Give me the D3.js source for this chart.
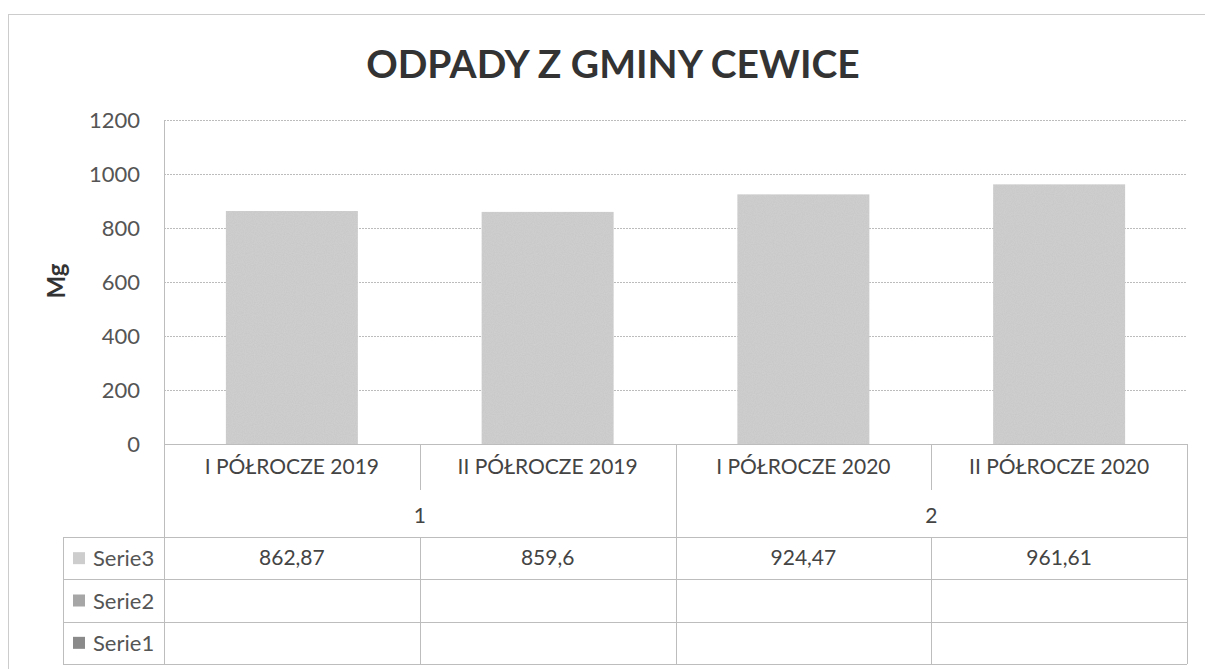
<!DOCTYPE html>
<html>
<head>
<meta charset="utf-8">
<script src="https://cdn.jsdelivr.net/npm/d3@7/dist/d3.min.js"></script>
<style>
  body { margin: 0; background: #fff; }
  svg text { font-family: Lato, "Open Sans", sans-serif; }
</style>
</head>
<body>
<div id="chart"></div>
<script>
var categories = ["I PÓŁROCZE 2019", "II PÓŁROCZE 2019", "I PÓŁROCZE 2020", "II PÓŁROCZE 2020"];
var groups = ["1", "1", "2", "2"];
var serie3 = [862.87, 859.6, 924.47, 961.61];
var serie2 = [null, null, null, null];
var serie1 = [null, null, null, null];
var seriesNames = ["Serie3", "Serie2", "Serie1"];
var yTicks = [0, 200, 400, 600, 800, 1000, 1200];

var W = 1205, H = 669;
var plot = {left: 164, right: 1187, top: 120, bottom: 444};
var catRowBottom = 490, tableTop = 537, tableBottom = 664, legendLeft = 63;
var lineColor = "#bdbdbd";
var keyColors = {"Serie3": "#cdcdcd", "Serie2": "#a6a6a6", "Serie1": "#8a8a8a"};
var rows = {"Serie3": serie3, "Serie2": serie2, "Serie1": serie1};

var svg = d3.select("#chart").append("svg")
    .attr("width", W)
    .attr("height", H);

// scan grain for the bars
var defs = svg.append("defs");
var f = defs.append("filter").attr("id", "grain");
f.append("feTurbulence").attr("type", "fractalNoise").attr("baseFrequency", 0.9).attr("numOctaves", 1).attr("result", "n");
f.append("feColorMatrix").attr("in", "n").attr("type", "matrix")
    .attr("values", "0 0 0 0 0  0 0 0 0 0  0 0 0 0 0  0 0 0 0.12 0").attr("result", "na");
f.append("feComposite").attr("in", "na").attr("in2", "SourceGraphic").attr("operator", "in").attr("result", "nc");
f.append("feMerge").call(function(m) {
    m.append("feMergeNode").attr("in", "SourceGraphic");
    m.append("feMergeNode").attr("in", "nc");
});

// outer chart border
svg.append("rect")
    .attr("x", 8.5).attr("y", 14.5)
    .attr("width", W).attr("height", H)
    .attr("fill", "none")
    .attr("stroke", "#999")
    .attr("stroke-dasharray", "1,1");

svg.append("text")
    .attr("x", 613).attr("y", 78)
    .attr("text-anchor", "middle")
    .attr("font-size", 39)
    .attr("font-weight", "bold")
    .attr("fill", "#333")
    .text("ODPADY Z GMINY CEWICE");

var x = d3.scaleBand().domain(categories).range([plot.left, plot.right]);
var y = d3.scaleLinear().domain([0, 1200]).range([plot.bottom, plot.top]);
var rowY = d3.scaleBand().domain(seriesNames).range([tableTop, tableBottom]);

// gridlines
svg.append("g")
    .attr("class", "grid")
    .attr("transform", "translate(" + plot.left + ",0)")
    .call(d3.axisLeft(y).tickValues(yTicks).tickSize(-(plot.right - plot.left)).tickFormat(""))
    .call(function(g) { g.select(".domain").remove(); })
    .selectAll("line")
    .attr("stroke", "#bcbcbc")
    .attr("stroke-dasharray", "2,1");

// y axis labels
svg.append("g")
    .attr("transform", "translate(" + plot.left + ",0)")
    .call(d3.axisLeft(y).tickValues(yTicks).tickSize(0).tickPadding(24).tickFormat(d3.format("d")))
    .call(function(g) { g.select(".domain").remove(); })
    .selectAll("text")
    .attr("font-family", "Lato, sans-serif")
    .attr("font-size", 22)
    .attr("fill", "#555");

svg.append("text")
    .attr("transform", "translate(65,281) rotate(-90)")
    .attr("text-anchor", "middle")
    .attr("font-size", 24)
    .attr("font-weight", "bold")
    .attr("fill", "#333")
    .text("Mg");

// bars
var barRatio = 0.516;
svg.selectAll(".bar")
    .data(serie3)
  .enter().append("rect")
    .attr("class", "bar")
    .attr("x", function(d, i) { return x(categories[i]) + x.bandwidth() * (1 - barRatio) / 2; })
    .attr("width", x.bandwidth() * barRatio)
    .attr("y", function(d) { return y(d); })
    .attr("height", function(d) { return y(0) - y(d); })
    .attr("fill", "#d2d2d2")
    .attr("filter", "url(#grain)");

// category labels
svg.append("g")
    .attr("transform", "translate(0," + plot.bottom + ")")
    .call(d3.axisBottom(x).tickSize(0).tickPadding(15))
    .call(function(g) { g.select(".domain").remove(); })
    .selectAll("text")
    .attr("font-family", "Lato, sans-serif")
    .attr("font-size", 21)
    .attr("fill", "#444");

// group labels
var groupNames = Array.from(new Set(groups));
groupNames.forEach(function(gn) {
    var cats = categories.filter(function(c, i) { return groups[i] === gn; });
    var cx = d3.mean(cats, function(c) { return x(c) + x.bandwidth() / 2; });
    svg.append("text")
        .attr("x", cx).attr("y", 523)
        .attr("text-anchor", "middle")
        .attr("font-size", 21)
        .attr("fill", "#444")
        .text(gn);
});

var lines = svg.append("g").attr("stroke", lineColor).attr("stroke-width", 1);
function hline(x1, x2, yy) {
    lines.append("line").attr("x1", x1).attr("x2", x2).attr("y1", yy + 0.5).attr("y2", yy + 0.5);
}
function vline(xx, y1, y2) {
    lines.append("line").attr("x1", xx + 0.5).attr("x2", xx + 0.5).attr("y1", y1).attr("y2", y2);
}

// plot frame
vline(plot.left, plot.top, tableBottom);
vline(plot.right, plot.bottom, tableBottom);
hline(plot.left, plot.right, plot.bottom);

// category separators
categories.forEach(function(c, i) {
    if (i === 0) return;
    var xx = Math.round(x(c));
    var groupEdge = groups[i] !== groups[i - 1];
    vline(xx, plot.bottom, groupEdge ? tableTop : catRowBottom);
    vline(xx, tableTop, tableBottom);
});

// data table
hline(legendLeft, plot.right, tableTop);
seriesNames.forEach(function(s) {
    hline(legendLeft, plot.right, Math.round(rowY(s) + rowY.bandwidth()));
});
vline(legendLeft, tableTop, tableBottom);

seriesNames.forEach(function(s) {
    var cy = rowY(s) + rowY.bandwidth() / 2;
    svg.append("rect")
        .attr("x", 73).attr("y", cy - 6)
        .attr("width", 12).attr("height", 12)
        .attr("fill", keyColors[s]);
    svg.append("text")
        .attr("x", 93).attr("y", cy + 8)
        .attr("font-size", 22)
        .attr("fill", "#555")
        .text(s);
    rows[s].forEach(function(v, i) {
        if (v == null) return;
        svg.append("text")
            .attr("x", x(categories[i]) + x.bandwidth() / 2)
            .attr("y", cy + 7)
            .attr("text-anchor", "middle")
            .attr("font-size", 21)
            .attr("fill", "#444")
            .text(String(v).replace(".", ","));
    });
});
</script>
</body>
</html>
